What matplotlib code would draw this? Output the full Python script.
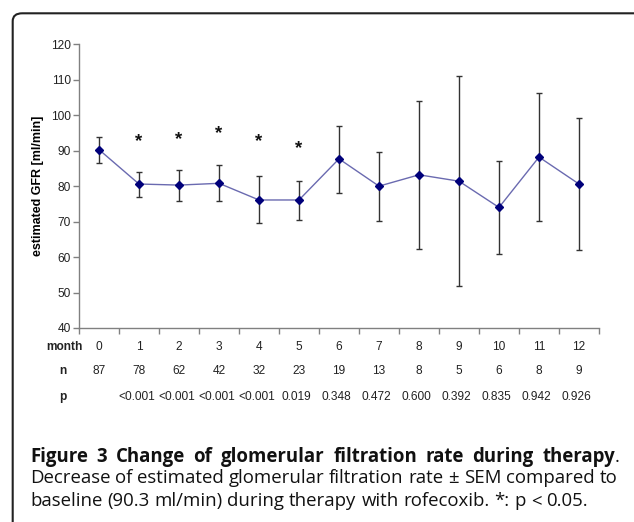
import matplotlib
matplotlib.use('Agg')
import matplotlib.pyplot as plt
import matplotlib.transforms as mtransforms
from matplotlib.patches import FancyBboxPatch
import numpy as np

# data
months = [0, 1, 2, 3, 4, 5, 6, 7, 8, 9, 10, 11, 12]
n_pat = [87, 78, 62, 42, 32, 23, 19, 13, 8, 5, 6, 8, 9]
p_vals = ['', '<0.001', '<0.001', '<0.001', '<0.001', '0.019', '0.348',
          '0.472', '0.600', '0.392', '0.835', '0.942', '0.926']
gfr = [90.3, 80.6, 80.3, 80.8, 76.1, 76.1, 87.7, 80.0, 83.2, 81.4, 74.0, 88.2, 80.6]
err_top = [93.9, 84.1, 84.6, 85.9, 82.9, 81.4, 96.9, 89.5, 104.0, 111.1, 87.1, 106.3, 99.2]
err_bot = [86.6, 76.9, 75.8, 75.8, 69.5, 70.5, 78.2, 70.3, 62.4, 51.8, 60.8, 70.3, 62.1]
star_months = [1, 2, 3, 4, 5]
star_y = [93.5, 93.8, 95.5, 93.5, 91.3]

W, H = 634, 522
fig = plt.figure(figsize=(W / 100, H / 100), dpi=100)

def fx(px):
    return px / W

def fy(py):
    return 1 - py / H

# frame around the figure (runs off the right and bottom edge)
box = FancyBboxPatch((fx(12.7), fy(560)), fx(660) - fx(12.7), fy(13.3) - fy(560),
                     boxstyle='round,pad=0,rounding_size=0.015',
                     transform=fig.transFigure, fill=False, ec='#222222', lw=1.5,
                     clip_on=False)
fig.patches.append(box)

ax = fig.add_axes([fx(79), fy(328), fx(599) - fx(79), fy(44.3) - fy(328)])
x = np.array(months)
g = np.array(gfr)
yerr = [g - np.array(err_bot), np.array(err_top) - g]
ax.errorbar(x, g, yerr=yerr, fmt='none', ecolor='#333333', elinewidth=1.0,
            capsize=2.5, capthick=1.0, zorder=2)
ax.plot(x, g, color='#6a6ab0', lw=1.0, zorder=3)
ax.plot(x, g, 'D', color='#00007a', ms=4, zorder=4)

for m, sy in zip(star_months, star_y):
    ax.text(m, sy - 0.8, '*', ha='center', va='center', fontsize=13.5, fontweight='bold',
            family='Liberation Sans', color='#111111')

ax.set_xlim(-0.5, 12.5)
ax.set_ylim(40, 120)
ax.set_yticks(range(40, 121, 10))
ax.set_xticks(np.arange(-0.5, 13, 1))
ax.set_xticklabels([])
for s in ['top', 'right']:
    ax.spines[s].set_visible(False)
for s in ['left', 'bottom']:
    ax.spines[s].set_color('#808080')
    ax.spines[s].set_linewidth(1.0)
ax.tick_params(axis='both', direction='out', length=4, width=1, color='#808080',
               labelsize=8.6, labelcolor='#222222', pad=2)
for lab in ax.get_yticklabels():
    lab.set_family('Liberation Sans')
ax.set_ylabel('estimated GFR [ml/min]', fontsize=9, fontweight='bold',
              family='Liberation Sans')
ax.yaxis.set_label_coords((44 - 79) / 520, 0.5)

# table rows under the axis
trans = mtransforms.blended_transform_factory(ax.transData, fig.transFigure)
row_font = dict(fontsize=8.6, family='Liberation Sans', color='#222222', va='center')
fig.text(fx(83), fy(346.7), 'month', ha='right', fontweight='bold', **row_font)
fig.text(fx(63), fy(371), 'n', ha='center', fontweight='bold', **row_font)
fig.text(fx(63), fy(397), 'p', ha='center', fontweight='bold', **row_font)
for m, n, p in zip(months, n_pat, p_vals):
    ax.text(m, fy(346.7), str(m), transform=trans, ha='center', **row_font)
    ax.text(m, fy(371), str(n), transform=trans, ha='center', **row_font)
    ax.text(m - 0.06, fy(396.7), p, transform=trans, ha='center', **row_font)

# caption, justified like the journal layout
renderer = fig.canvas.get_renderer()
cap1 = 'Figure 3 Change of glomerular filtration rate during therapy'
cap2 = 'Decrease of estimated glomerular filtration rate \u00b1 SEM compared to'
cap3 = 'baseline (90.3 ml/min) during therapy with rofecoxib. *: p < 0.05.'

# size the caption font so the last (unjustified) line is as wide as in the figure
probe = fig.text(0, 0, cap3, fontsize=10, family='Open Sans')
cap_size = 10 * 557 / probe.get_window_extent(renderer).width
probe.remove()
cap_font = dict(fontsize=cap_size, family='Open Sans', color='#111111', va='baseline')

def put_line(words, base, x0, x1=None):
    # words: list of lists of (text, weight) segments
    items = []
    for segs in words:
        ts = []
        for txt, wt in segs:
            t = fig.text(0, fy(base), txt, fontweight=wt, **cap_font)
            ts.append((t, t.get_window_extent(renderer).width))
        items.append(ts)
    widths = [sum(w for _, w in ts) for ts in items]
    a = fig.text(0, 0, 'a a', **cap_font)
    b = fig.text(0, 0, 'aa', **cap_font)
    sp = a.get_window_extent(renderer).width - b.get_window_extent(renderer).width
    a.remove()
    b.remove()
    gap = sp
    if x1 is not None:
        gap = max((x1 - x0 - sum(widths)) / (len(items) - 1), 0.6 * sp)
    cx = x0
    for ts, wd in zip(items, widths):
        xx = cx
        for t, w in ts:
            t.set_x(fx(xx))
            xx += w
        cx += wd + gap

line1 = [[(w, 'bold')] for w in cap1.split()[:-1]]
line1.append([(cap1.split()[-1], 'bold'), ('.', 'normal')])
line2 = [[(w, 'normal')] for w in cap2.split()]
line3 = [[(w, 'normal')] for w in cap3.split()]
put_line(line1, 461.7, 30, 620)
put_line(line2, 482.7, 30, 617)
put_line(line3, 506.0, 30)

fig.savefig('out.png', dpi=100)
